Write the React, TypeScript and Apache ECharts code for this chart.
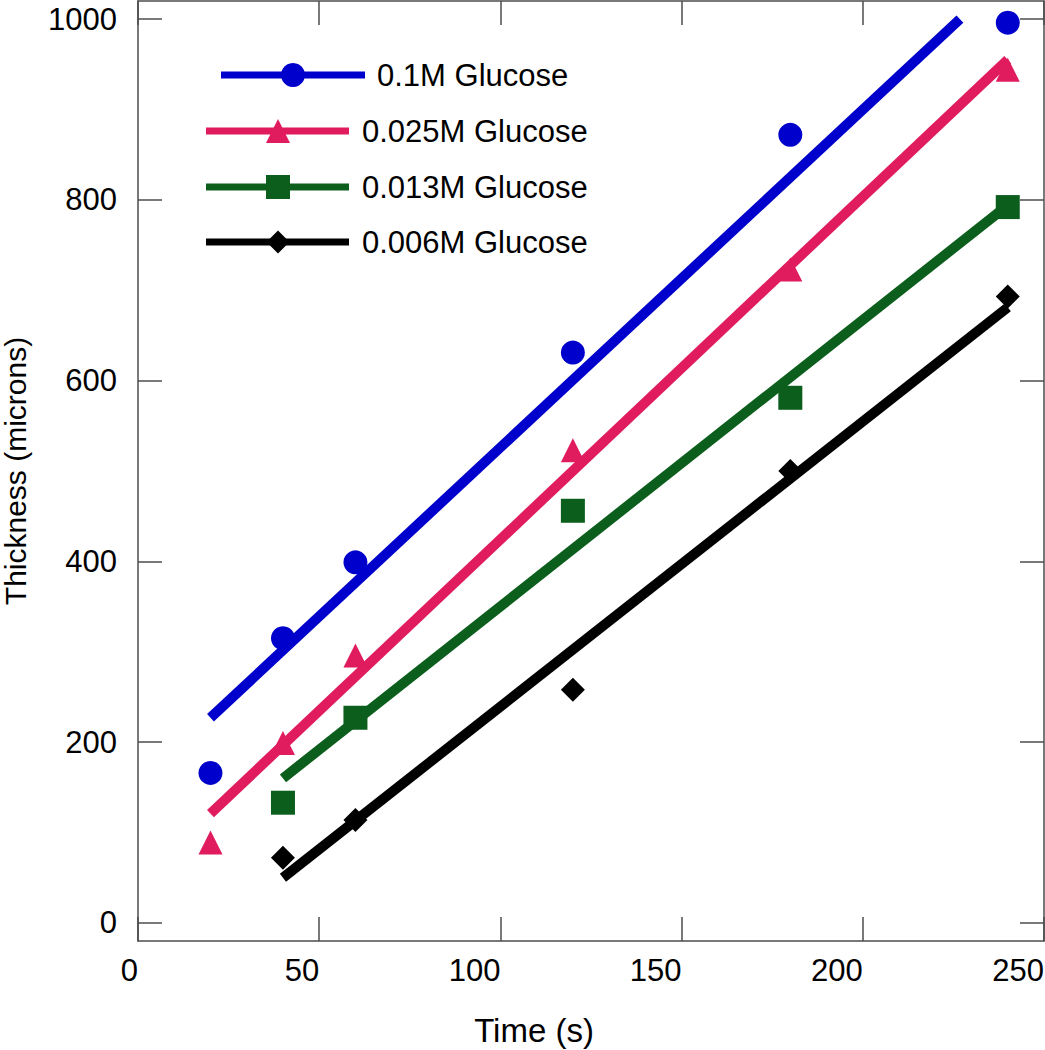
import React, { useEffect, useRef } from "react";
import * as echarts from "echarts";

// ---- data ----
const xTicks = [0, 50, 100, 150, 200, 250];
const yTicks = [0, 200, 400, 600, 800, 1000];

const seriesNames = ["0.1M Glucose", "0.025M Glucose", "0.013M Glucose", "0.006M Glucose"];
const seriesColors = ["#0000cc", "#e01b5e", "#0b5e1c", "#000000"];
const seriesSymbols = ["circle", "triangle", "rect", "diamond"];

const time01 = [20, 40, 60, 120, 180, 240];
const thick01 = [166, 315, 399, 631, 872, 996];
const time025 = [20, 40, 60, 120, 180, 240];
const thick025 = [89, 199, 296, 523, 723, 944];
const time013 = [40, 60, 120, 180, 240];
const thick013 = [133, 227, 456, 581, 792];
const time006 = [40, 60, 120, 180, 240];
const thick006 = [72, 114, 258, 500, 693];

// fitted straight lines (end points)
const fitX01 = [20, 226.8];
const fitY01 = [227, 1000];
const fitX025 = [20, 240];
const fitY025 = [121, 955];
const fitX013 = [40, 240];
const fitY013 = [160, 794];
const fitX006 = [40, 240];
const fitY006 = [50, 681];

const FONT = "'Liberation Sans', Arial, Helvetica, sans-serif";
const AXIS_COLOR = "#4d4d4d";

const pairs = (xs: number[], ys: number[]) => xs.map((x, i) => [x, ys[i]]);

export default function App() {
  const ref = useRef<HTMLDivElement>(null);

  useEffect(() => {
    document.body.style.margin = "0";
    if (!ref.current) return;
    const chart = echarts.init(ref.current, null, { renderer: "svg" });

    const scatterData = [
      pairs(time01, thick01),
      pairs(time025, thick025),
      pairs(time013, thick013),
      pairs(time006, thick006),
    ];
    const fitData = [
      pairs(fitX01, fitY01),
      pairs(fitX025, fitY025),
      pairs(fitX013, fitY013),
      pairs(fitX006, fitY006),
    ];

    const series: any[] = [];
    seriesNames.forEach((name, i) => {
      series.push({
        name,
        type: "scatter",
        data: scatterData[i],
        symbol: seriesSymbols[i],
        symbolSize: 24,
        itemStyle: { color: seriesColors[i], opacity: 1 },
        z: 2,
      });
      series.push({
        name: name + " fit",
        type: "line",
        data: fitData[i],
        symbol: "none",
        lineStyle: { color: seriesColors[i], width: 10, cap: "butt" },
        z: 3,
      });
    });

    const axisLine = { show: true, onZero: false, lineStyle: { color: AXIS_COLOR, width: 1.5 } };
    const axisTick = { show: true, inside: true, length: 24, lineStyle: { color: AXIS_COLOR, width: 1.5 } };

    // legend drawn as graphics
    const legendRows = [
      { y: 75, x1: 221, x2: 365, mx: 293, tx: 377 },
      { y: 131, x1: 206, x2: 349, mx: 278, tx: 362 },
      { y: 187, x1: 206, x2: 349, mx: 278, tx: 362 },
      { y: 242, x1: 206, x2: 349, mx: 278, tx: 362 },
    ];
    const graphic: any[] = [];
    legendRows.forEach((r, i) => {
      const c = seriesColors[i];
      graphic.push({
        type: "line",
        shape: { x1: r.x1, y1: r.y, x2: r.x2, y2: r.y },
        style: { stroke: c, lineWidth: 7 },
      });
      if (i === 0) {
        graphic.push({ type: "circle", shape: { cx: r.mx, cy: r.y, r: 12 }, style: { fill: c } });
      } else if (i === 1) {
        graphic.push({
          type: "polygon",
          shape: { points: [[r.mx, r.y - 12], [r.mx + 12, r.y + 12], [r.mx - 12, r.y + 12]] },
          style: { fill: c },
        });
      } else if (i === 2) {
        graphic.push({ type: "rect", shape: { x: r.mx - 12, y: r.y - 12, width: 24, height: 24 }, style: { fill: c } });
      } else {
        graphic.push({
          type: "polygon",
          shape: { points: [[r.mx, r.y - 11.5], [r.mx + 11.5, r.y], [r.mx, r.y + 11.5], [r.mx - 11.5, r.y]] },
          style: { fill: c },
        });
      }
      graphic.push({
        type: "text",
        x: r.tx,
        y: r.y,
        style: {
          text: seriesNames[i],
          fill: "#000",
          font: `31px ${FONT}`,
          textVerticalAlign: "middle",
          textAlign: "left",
        },
      });
    });

    chart.setOption({
      animation: false,
      backgroundColor: "#ffffff",
      grid: { left: 138, right: 1, top: 1, bottom: 109, outerBoundsMode: "none", containLabel: false },
      xAxis: [
        {
          type: "value",
          position: "bottom",
          min: 0,
          max: 250,
          interval: 50,
          axisLine,
          axisTick,
          splitLine: { show: false },
          axisLabel: { fontSize: 31, color: "#000", fontFamily: FONT, align: "right", margin: 14 },
          name: "Time (s)",
          nameLocation: "middle",
          nameGap: 73,
          nameMoveOverlap: false,
          nameTextStyle: { fontSize: 33, color: "#000", fontFamily: FONT, padding: [0, 114, 0, 0] },
        },
        {
          type: "value",
          position: "top",
          min: 0,
          max: 250,
          interval: 50,
          axisLine,
          axisTick,
          splitLine: { show: false },
          axisLabel: { show: false },
        },
      ],
      yAxis: [
        {
          type: "value",
          position: "left",
          min: -20,
          max: 1020,
          axisLine,
          axisTick: { ...axisTick, customValues: yTicks },
          splitLine: { show: false },
          axisLabel: {
            fontSize: 31,
            color: "#000",
            fontFamily: FONT,
            margin: 21,
            customValues: yTicks,
            formatter: (v: number) => String(v),
          },
          name: "Thickness (microns)",
          nameLocation: "middle",
          nameGap: 108,
          nameMoveOverlap: false,
          nameTextStyle: { fontSize: 30, color: "#000", fontFamily: FONT },
        },
        {
          type: "value",
          position: "right",
          min: -20,
          max: 1020,
          axisLine,
          axisTick: { ...axisTick, customValues: yTicks },
          splitLine: { show: false },
          axisLabel: { show: false, customValues: yTicks },
        },
      ],
      series,
      graphic,
    });

    return () => chart.dispose();
  }, []);

  return <div ref={ref} style={{ width: 1045, height: 1050 }} />;
}
